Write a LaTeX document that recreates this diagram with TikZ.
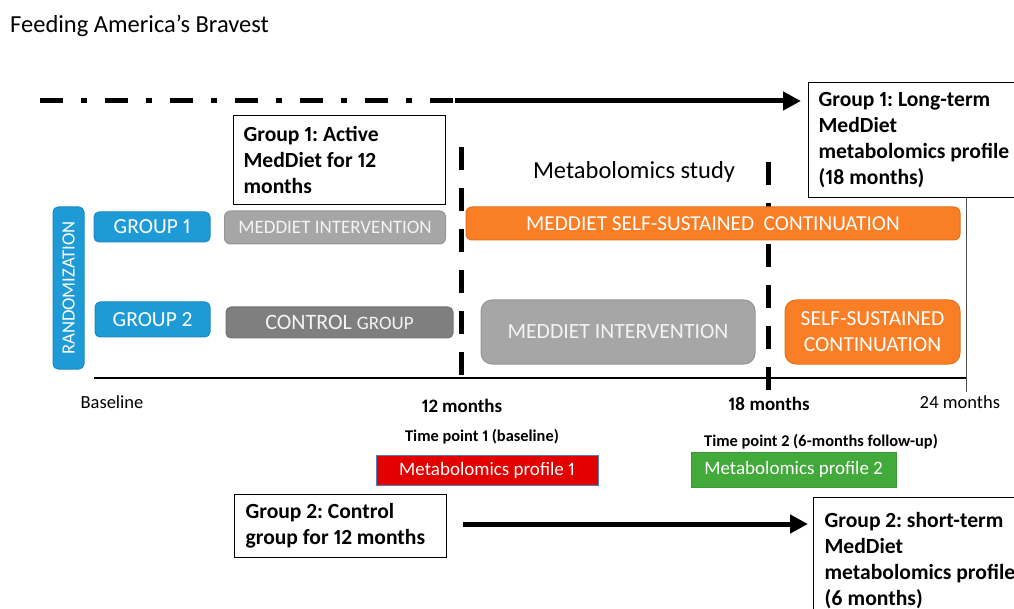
\documentclass[tikz,border=0pt]{standalone}
\usepackage{fontspec}
\setmainfont{Carlito}[Numbers=Proportional]
\usetikzlibrary{arrows.meta}
\definecolor{bluef}{HTML}{1E9BD7}
\definecolor{blued}{HTML}{1A88C2}
\definecolor{grayl}{HTML}{A6A6A6}
\definecolor{grayld}{HTML}{959595}
\definecolor{grayd}{HTML}{7F7F7F}
\definecolor{graydd}{HTML}{737373}
\definecolor{orangef}{HTML}{F97E25}
\definecolor{oranged}{HTML}{E2701C}
\definecolor{redf}{HTML}{E20000}
\definecolor{redb}{HTML}{4F81BD}
\definecolor{greenf}{HTML}{42AA3A}
\definecolor{greend}{HTML}{3A9A33}
\definecolor{paletxt}{HTML}{F4F4F4}
\frenchspacing
\newcommand\notesp{\spaceskip=0.226em plus 0.1em minus 0.05em\xspaceskip=0.226em\relax}
\begin{document}
\begin{tikzpicture}[x=1pt,y=-1pt,
  bluebox/.style={draw=blued,fill=bluef,line width=1pt,rounded corners=5pt,text=white,inner sep=0pt},
  graybox/.style={draw=grayld,fill=grayl,line width=1pt,rounded corners=6pt,text=paletxt,inner sep=0pt},
  darkbox/.style={draw=graydd,fill=grayd,line width=1pt,rounded corners=5pt,text=paletxt,inner sep=0pt},
  orangebox/.style={draw=oranged,fill=orangef,line width=1pt,rounded corners=6pt,text=white,inner sep=0pt},
  notebox/.style={draw=black,line width=1.2pt,fill=white,align=left,inner sep=0pt,
     font=\fontsize{21.6}{26}\selectfont\bfseries},
  vdash/.style={line width=5pt,dash pattern=on 23pt off 18pt},
  bigarrow/.style={line width=5pt,-{Triangle[length=18pt,width=18pt]}},
  lbl/.style={inner sep=0pt}
]
\useasboundingbox (0,0) rectangle (1014,609);
\begin{scope}
\clip (0,0) rectangle (1014,609);

% title
\node[lbl,anchor=west,font=\fontsize{24.5}{28}\selectfont] (title) at (10,26) {Feeding America’s Bravest};

% vertical time markers (behind the bars)
\coordinate (v12a) at (461,147);
\coordinate (v12b) at (461,378);
\draw[vdash] (v12a) -- (v12b);
\coordinate (v18a) at (768,162);
\coordinate (v18b) at (768,390);
\draw[vdash] (v18a) -- (v18b);

% note boxes
\node[notebox,anchor=north west,minimum width=212pt,minimum height=89pt,text width=192pt] (g1a) at (233,115) {\notesp Group~1:~Active\\MedDiet~for~12\\months};
\node[notebox,anchor=north west,minimum width=226pt,minimum height=115pt,text width=206pt] (lt) at (808,82) {\notesp Group~1:~Long-term\\MedDiet\\metabolomics~profile\\(18~months)};
\node[notebox,anchor=north west,minimum width=212pt,minimum height=63pt,text width=190pt] (g2c) at (234,494) {\notesp Group~2:~Control\\group~for~12~months};
\node[notebox,anchor=north west,minimum width=222pt,minimum height=125pt,text width=200pt] (st) at (813,497) {\notesp Group~2:~short-term\\MedDiet\\metabolomics~profile\\(6~months)};

% top dash-dot + arrow
\coordinate (ds) at (40,101);
\coordinate (dm) at (455,101);
\draw[line width=5pt,dash pattern=on 23pt off 18pt on 6pt off 18pt] (ds) -- (dm);
\draw[bigarrow] (dm) -- ([xshift=-7pt]lt.west |- dm);

% bottom arrow
\draw[bigarrow] ([xshift=16pt]g2c.east |- 0,524) -- ([xshift=-5pt]st.west |- 0,524);

% study label
\node[lbl,font=\fontsize{24.5}{28}\selectfont] (study) at (634,172) {Metabolomics study};

% boxes
\node[bluebox,minimum width=31pt,minimum height=162pt] (rand) at (68.5,288) {};
\node[lbl,rotate=90,text=white,font=\fontsize{18.7}{20}\selectfont] (randt) at (rand.center) {RANDOMIZATION};
\node[bluebox,minimum width=116pt,minimum height=30pt,font=\fontsize{21.5}{24}\selectfont] (grp1) at (152,227) {GROUP 1};
\node[bluebox,minimum width=115pt,minimum height=35pt,font=\fontsize{21.5}{24}\selectfont] (grp2) at (152.5,319.5) {GROUP 2};
\node[graybox,minimum width=221pt,minimum height=33pt,font=\fontsize{19}{22}\selectfont] (mi1) at (335,227.5) {MEDDIET INTERVENTION};
\node[darkbox,minimum width=227pt,minimum height=31pt] (ctl) at (339.5,322.5) {\fontsize{22}{24}\selectfont CONTROL \fontsize{19}{24}\selectfont GROUP};
\node[orangebox,minimum width=494pt,minimum height=33pt,font=\fontsize{21.3}{24}\selectfont] (msc) at (713,223.5) {MEDDIET SELF-SUSTAINED\ \ CONTINUATION};
\node[graybox,rounded corners=11pt,minimum width=274pt,minimum height=64pt,font=\fontsize{21.7}{24}\selectfont] (mi2) at (618,332) {MEDDIET INTERVENTION};
\node[orangebox,rounded corners=11pt,minimum width=175pt,minimum height=64pt,align=center,font=\fontsize{21.5}{26}\selectfont] (ssc) at (872.5,332) {SELF-SUSTAINED\\CONTINUATION};

% timeline
\coordinate (ax0) at (94,378);
\coordinate (ax1) at (966,378);
\draw[line width=1.6pt] (ax0) -- (ax1);
\coordinate (v24a) at (966,198);
\coordinate (v24b) at (966,392);
\draw[line width=0.8pt,black!70] (v24a) -- (v24b);

% axis labels
\node[lbl,font=\fontsize{18.5}{20}\selectfont] (lb0) at (112,402) {Baseline};
\node[lbl,font=\fontsize{19}{20}\selectfont\bfseries] (lb12) at (462,406) {12 months};
\node[lbl,font=\fontsize{19}{20}\selectfont\bfseries] (lb18) at (769,404) {18 months};
\node[lbl,font=\fontsize{18.5}{20}\selectfont] (lb24) at (960,402) {24 months};
\node[lbl,font=\fontsize{16.4}{18}\selectfont\bfseries] (tp1) at (482,437) {Time point 1 (baseline)};
\node[lbl,font=\fontsize{16.4}{18}\selectfont\bfseries] (tp2) at (821,442) {Time point 2 (6-months follow-up)};

% metabolomics profile boxes
\node[draw=redb,fill=redf,line width=1pt,text=white,minimum width=222pt,minimum height=30pt,inner sep=0pt,font=\fontsize{19}{20}\selectfont] (mp1) at (487,470.5) {Metabolomics profile 1};
\node[draw=greend,fill=greenf,line width=1pt,text=white,minimum width=205pt,minimum height=35pt,inner sep=0pt,font=\fontsize{19}{20}\selectfont] (mp2) at (793.5,469.5) {Metabolomics profile 2};
\end{scope}
\end{tikzpicture}
\end{document}
